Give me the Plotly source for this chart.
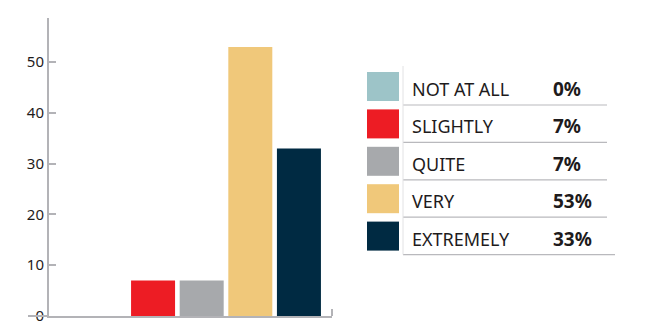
import plotly.graph_objects as go

categories = ["NOT AT ALL", "SLIGHTLY", "QUITE", "VERY", "EXTREMELY"]
values = [0, 7, 7, 53, 33]
colors = ["#9dc4c8", "#ed1c24", "#a7a9ac", "#f0c87a", "#002a42"]
pct_labels = ["0%", "7%", "7%", "53%", "33%"]
y_ticks = [0, 10, 20, 30, 40, 50]

W, H = 667, 327
L, R, T, B = 49, 332, 18, 316  # plot area in pixels

def px(x):
    return (x - L) / (R - L)

def py(y):
    return (B - y) / (B - T)

fig = go.Figure()
fig.add_trace(go.Bar(
    x=list(range(len(categories))), y=values,
    marker=dict(color=colors, line=dict(width=0)),
    hoverinfo="skip", showlegend=False,
))

axis_col = "#b3b3b7"
shapes = []
annotations = []

# tick at right end of x-axis and extension of baseline to the left
shapes.append(dict(type="line", xref="paper", yref="paper",
                   x0=px(R), x1=px(R), y0=py(B), y1=py(B - 7),
                   line=dict(color=axis_col, width=2)))
shapes.append(dict(type="line", xref="paper", yref="paper",
                   x0=px(28), x1=px(L), y0=py(B), y1=py(B),
                   line=dict(color=axis_col, width=2)))

# legend table
row0, pitch, sw_h = 72, 37.4, 29
sep_col = "#b9b9bd"
for i, (cat, col, pct) in enumerate(zip(categories, colors, pct_labels)):
    top = row0 + i * pitch
    shapes.append(dict(type="rect", xref="paper", yref="paper",
                       x0=px(367), x1=px(399), y0=py(top), y1=py(top + sw_h),
                       fillcolor=col, line=dict(width=0)))
    sep_y = top + sw_h + 4
    right = 615 if i == len(categories) - 1 else 607
    shapes.append(dict(type="line", xref="paper", yref="paper",
                       x0=px(403), x1=px(right), y0=py(sep_y), y1=py(sep_y),
                       line=dict(color=sep_col, width=1.2)))
    cy = top + sw_h / 2 + 2.5
    annotations.append(dict(xref="paper", yref="paper", x=px(410), y=py(cy),
                            text=cat, showarrow=False, xanchor="left", yanchor="middle",
                            font=dict(family="Noto Sans", size=18, color="#1e1b1c")))
    annotations.append(dict(xref="paper", yref="paper", x=px(551), y=py(cy),
                            text="<b>" + pct + "</b>", showarrow=False,
                            xanchor="left", yanchor="middle",
                            font=dict(family="Noto Sans", size=19, color="#1e1b1c")))

# faint vertical line at left of text column
shapes.append(dict(type="line", xref="paper", yref="paper",
                   x0=px(403), x1=px(403), y0=py(66), y1=py(row0 + 4 * pitch + sw_h + 4),
                   line=dict(color="#e2e2e4", width=1)))

fig.update_layout(
    width=W, height=H,
    margin=dict(l=L, r=W - R, t=T, b=H - B, pad=0, autoexpand=False),
    paper_bgcolor="white", plot_bgcolor="white",
    bargap=0.095,
    shapes=shapes, annotations=annotations,
    font=dict(family="Noto Sans", color="#1e1b1c"),
    xaxis=dict(range=[-1.14, 4.68], showline=True, linecolor=axis_col, linewidth=2,
               showticklabels=False, ticks="", showgrid=False, zeroline=False,
               fixedrange=True, automargin=False),
    yaxis=dict(range=[0, 58.7], showline=True, linecolor=axis_col, linewidth=2,
               tickvals=y_ticks, ticks="inside", ticklen=7, tickwidth=2,
               tickcolor=axis_col, showgrid=False, zeroline=False,
               tickfont=dict(family="Noto Sans", size=15, color="#1e1b1c"),
               fixedrange=True, automargin=False),
)

fig.write_html("out.html", config={"displayModeBar": False})
